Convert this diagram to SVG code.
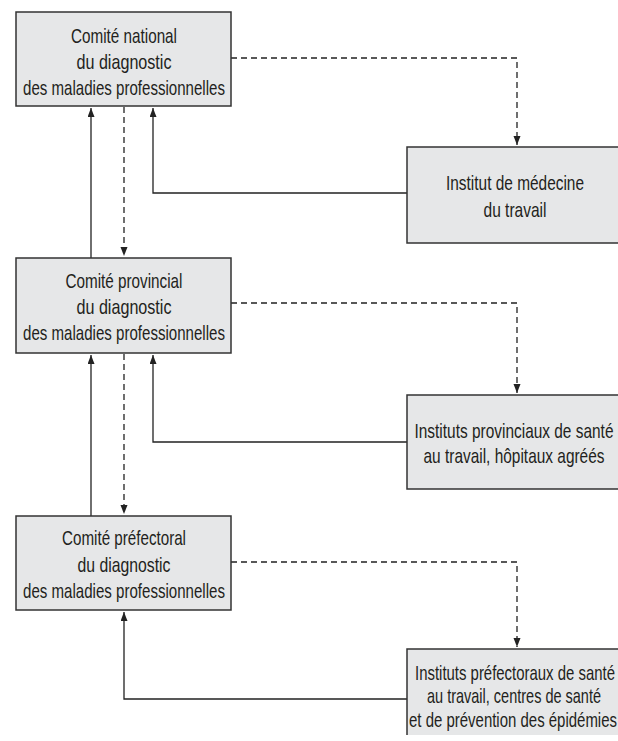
<svg xmlns="http://www.w3.org/2000/svg" width="618" height="741" viewBox="0 0 618 741">
<defs>
<style>
.box{fill:#e6e7e8;stroke:#333;stroke-width:1.5}
.fill{fill:#e6e7e8;stroke:none}
.edge{fill:none;stroke:#333;stroke-width:1.5}
.t{font-family:"Liberation Sans",Arial,sans-serif;font-size:21px;fill:#231f20;text-anchor:middle}
.c{fill:none;stroke:#222;stroke-width:1.3}
.d{stroke-dasharray:6,4}
</style>
<marker id="ah" markerUnits="userSpaceOnUse" markerWidth="10" markerHeight="8" refX="9" refY="3.5" orient="auto">
<path d="M0,0 L9,3.5 L0,7 z" fill="#222"/>
</marker>
</defs>
<rect width="618" height="741" fill="#fff"/>
<g id="connectors">
<path class="c d" d="M231,58 H517 V145" marker-end="url(#ah)"/>
<path class="c" d="M407,193 H153 V108" marker-end="url(#ah)"/>
<path class="c" d="M91,258 V108" marker-end="url(#ah)"/>
<path class="c d" d="M124,107 V256" marker-end="url(#ah)"/>
<path class="c d" d="M231,303 H517 V393" marker-end="url(#ah)"/>
<path class="c" d="M407,442 H153 V355" marker-end="url(#ah)"/>
<path class="c" d="M91,516 V355" marker-end="url(#ah)"/>
<path class="c d" d="M124,354 V514" marker-end="url(#ah)"/>
<path class="c d" d="M231,562 H517 V647" marker-end="url(#ah)"/>
<path class="c" d="M407,699 H124 V612" marker-end="url(#ah)"/>
</g>
<g id="national">
<rect class="box" x="16" y="12" width="215" height="94"/>
<text class="t" x="124" y="43" textLength="106" lengthAdjust="spacingAndGlyphs">Comité national</text>
<text class="t" x="124" y="69" textLength="95" lengthAdjust="spacingAndGlyphs">du diagnostic</text>
<text class="t" x="124" y="95" textLength="202" lengthAdjust="spacingAndGlyphs">des maladies professionnelles</text>
</g>
<g id="institut-medecine">
<rect class="fill" x="407" y="147" width="211" height="96"/>
<path class="edge" d="M618,147 H407 V243 H618"/>
<text class="t" x="515" y="190" textLength="138" lengthAdjust="spacingAndGlyphs">Institut de médecine</text>
<text class="t" x="515" y="217" textLength="63" lengthAdjust="spacingAndGlyphs">du travail</text>
</g>
<g id="provincial">
<rect class="box" x="16" y="258" width="215" height="95"/>
<text class="t" x="124" y="288" textLength="117" lengthAdjust="spacingAndGlyphs">Comité provincial</text>
<text class="t" x="124" y="314" textLength="95" lengthAdjust="spacingAndGlyphs">du diagnostic</text>
<text class="t" x="124" y="340" textLength="202" lengthAdjust="spacingAndGlyphs">des maladies professionnelles</text>
</g>
<g id="instituts-provinciaux">
<rect class="fill" x="407" y="395" width="211" height="94"/>
<path class="edge" d="M618,395 H407 V489 H618"/>
<text class="t" x="514" y="438" textLength="199" lengthAdjust="spacingAndGlyphs">Instituts provinciaux de santé</text>
<text class="t" x="514" y="463" textLength="181" lengthAdjust="spacingAndGlyphs">au travail, hôpitaux agréés</text>
</g>
<g id="prefectoral">
<rect class="box" x="16" y="516" width="215" height="94"/>
<text class="t" x="124" y="545" textLength="124" lengthAdjust="spacingAndGlyphs">Comité préfectoral</text>
<text class="t" x="124" y="572" textLength="93" lengthAdjust="spacingAndGlyphs">du diagnostic</text>
<text class="t" x="124" y="598" textLength="202" lengthAdjust="spacingAndGlyphs">des maladies professionnelles</text>
</g>
<g id="instituts-prefectoraux">
<rect class="fill" x="407" y="649" width="211" height="86"/>
<path class="edge" d="M407,735 V649 H618"/>
<text class="t" x="515" y="680" textLength="200" lengthAdjust="spacingAndGlyphs">Instituts préfectoraux de santé</text>
<text class="t" x="514" y="703" textLength="174" lengthAdjust="spacingAndGlyphs">au travail, centres de santé</text>
<text class="t" x="513" y="727" textLength="208" lengthAdjust="spacingAndGlyphs">et de prévention des épidémies</text>
</g>
</svg>
